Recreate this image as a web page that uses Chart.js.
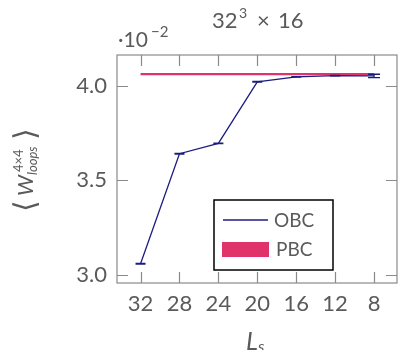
<!DOCTYPE html>
<html>
<head>
<meta charset="utf-8">
<script src="https://cdn.jsdelivr.net/npm/chart.js@4.4.1/dist/chart.umd.min.js"></script>
<style>
  html, body { margin: 0; padding: 0; background: #fff; }
  #wrap { width: 398px; height: 350px; }
</style>
</head>
<body>
<div id="wrap"><canvas id="c" width="398" height="350"></canvas></div>
<script>
// Spatial extent L_s (x) and plaquette-loop averages in units of 1e-2
const sizes = [32, 28, 24, 20, 16, 12, 8];
const obcValues = [3.058, 3.641, 3.696, 4.022, 4.048, 4.055, 4.053];
const obcErrors = [0.0015, 0.0015, 0.0015, 0.0015, 0.0015, 0.0015, 0.009];
const pbcSizes = [32, 8];
const pbcValues = [4.063, 4.063];
const xTicks = [32, 28, 24, 20, 16, 12, 8];
const yTicks = [3.0, 3.5, 4.0];

const FONT = "Lato, 'Open Sans', sans-serif";
const W = '400';
const TEXT = '#5a5a5a';
const AXIS = '#8a8a8a';
const NAVY = '#1c1c80';
const PINK = '#e0336b';

const obcPoints = sizes.map((s, i) => ({ x: s, y: obcValues[i] }));
const pbcPoints = pbcSizes.map((s, i) => ({ x: s, y: pbcValues[i] }));

const decor = {
  id: 'decor',
  afterDatasetsDraw(chart) {
    const ctx = chart.ctx;
    const a = chart.chartArea;
    const xs = chart.scales.x, ys = chart.scales.y;
    ctx.save();

    // error bars on the OBC points
    ctx.strokeStyle = NAVY;
    obcPoints.forEach((p, i) => {
      const px = xs.getPixelForValue(p.x);
      const top = ys.getPixelForValue(p.y + obcErrors[i]);
      const bot = ys.getPixelForValue(p.y - obcErrors[i]);
      const hw = i === obcPoints.length - 1 ? 6 : 5;
      ctx.lineWidth = 1.3;
      ctx.beginPath();
      ctx.moveTo(px, top); ctx.lineTo(px, bot);
      ctx.moveTo(px - hw, top); ctx.lineTo(px + hw, top);
      ctx.moveTo(px - hw, bot); ctx.lineTo(px + hw, bot);
      ctx.stroke();
    });

    // frame
    ctx.strokeStyle = AXIS;
    ctx.lineWidth = 1.2;
    ctx.strokeRect(a.left, a.top, a.right - a.left, a.bottom - a.top);

    // inward tick marks on all four sides
    const tl = 11;
    ctx.beginPath();
    xTicks.forEach(v => {
      const px = Math.round(xs.getPixelForValue(v)) + 0.5;
      ctx.moveTo(px, a.bottom); ctx.lineTo(px, a.bottom - tl);
      ctx.moveTo(px, a.top); ctx.lineTo(px, a.top + tl);
    });
    yTicks.forEach(v => {
      const py = Math.round(ys.getPixelForValue(v)) + 0.5;
      ctx.moveTo(a.left, py); ctx.lineTo(a.left + tl, py);
      ctx.moveTo(a.right, py); ctx.lineTo(a.right - tl, py);
    });
    ctx.stroke();

    // legend
    ctx.strokeStyle = '#000';
    ctx.lineWidth = 1.5;
    ctx.strokeRect(214, 200, 119, 70);
    ctx.strokeStyle = NAVY;
    ctx.lineWidth = 1.3;
    ctx.beginPath(); ctx.moveTo(223, 220); ctx.lineTo(268, 220); ctx.stroke();
    ctx.fillStyle = PINK;
    ctx.fillRect(222, 242, 47, 15);
    ctx.fillStyle = TEXT;
    ctx.font = `${W} 19px ${FONT}`;
    ctx.textAlign = 'left';
    ctx.textBaseline = 'alphabetic';
    ctx.fillText('OBC', 274, 227);
    ctx.fillText('PBC', 276, 256);

    // title
    ctx.font = `${W} 22px ${FONT}`;
    ctx.fillText('32', 212, 28);
    ctx.font = `${W} 14px ${FONT}`;
    ctx.fillText('3', 239, 18);
    ctx.font = `${W} 22px ${FONT}`;
    ctx.fillText('\u00d7', 257, 28);
    ctx.fillText('16', 278, 28);

    // exponent of the y scale
    ctx.font = `${W} 21px ${FONT}`;
    ctx.fillText('\u00b710', 118, 47);
    ctx.font = `${W} 15px ${FONT}`;
    ctx.fillText('\u22122', 151, 37);

    // x axis title
    ctx.font = `italic ${W} 25px ${FONT}`;
    ctx.fillText('L', 246, 350);
    ctx.font = `italic ${W} 16px ${FONT}`;
    ctx.fillText('s', 258, 352);

    // y axis title, rotated
    ctx.translate(33, 210);
    ctx.rotate(-Math.PI / 2);
    ctx.font = `300 30px ${FONT}`;
    ctx.fillText('\u27e8', -2, 2);
    ctx.font = `italic ${W} 22px ${FONT}`;
    ctx.fillText('W', 14, 0);
    ctx.font = `${W} 13px ${FONT}`;
    ctx.fillText('4\u00d74', 38, -10);
    ctx.font = `italic ${W} 13px ${FONT}`;
    ctx.fillText('loops', 35, 4);
    ctx.font = `300 30px ${FONT}`;
    ctx.fillText('\u27e9', 70, 2);

    ctx.restore();
  }
};

new Chart(document.getElementById('c'), {
  type: 'line',
  data: {
    datasets: [
      { label: 'OBC', data: obcPoints, borderColor: NAVY, borderWidth: 1.3,
        pointRadius: 0, fill: false, tension: 0 },
      { label: 'PBC', data: pbcPoints, borderColor: PINK, borderWidth: 2.2,
        pointRadius: 0, fill: false, tension: 0 }
    ]
  },
  options: {
    responsive: false,
    devicePixelRatio: 1,
    animation: false,
    layout: { padding: { top: 55, right: 1, left: 0, bottom: 0 } },
    plugins: { legend: { display: false }, tooltip: { enabled: false } },
    scales: {
      x: {
        type: 'linear', reverse: true, min: 5.64, max: 34.42,
        grid: { display: false, drawTicks: false }, border: { display: false },
        afterBuildTicks: s => { s.ticks = xTicks.map(v => ({ value: v })); },
        afterFit: s => { s.height = 67; },
        ticks: { color: TEXT, font: { family: FONT, size: 22, weight: W },
                 padding: 8, maxRotation: 0, autoSkip: false,
                 callback: v => String(v) }
      },
      y: {
        type: 'linear', min: 2.956, max: 4.164,
        grid: { display: false, drawTicks: false }, border: { display: false },
        afterBuildTicks: s => { s.ticks = yTicks.map(v => ({ value: v })); },
        afterFit: s => { s.width = 117; },
        ticks: { color: TEXT, font: { family: FONT, size: 22, weight: W },
                 padding: 10, callback: v => v.toFixed(1) }
      }
    }
  },
  plugins: [decor]
});
</script>
</body>
</html>
